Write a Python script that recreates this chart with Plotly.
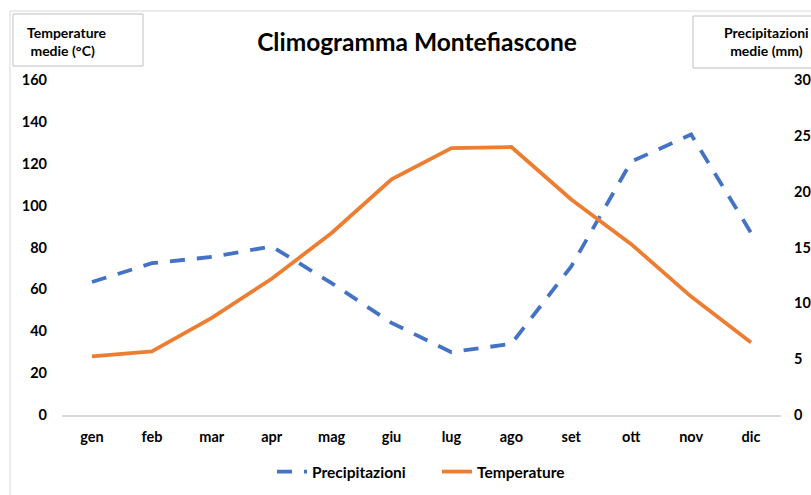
import plotly.graph_objects as go

months = ["gen", "feb", "mar", "apr", "mag", "giu", "lug", "ago", "set", "ott", "nov", "dic"]
precipitazioni = [63.5, 72.5, 75.5, 80.5, 63, 44, 30, 34, 71, 121, 134, 87]
temperature = [5.25, 5.7, 8.7, 12.2, 16.3, 21.1, 23.9, 24.0, 19.3, 15.3, 10.6, 6.5]
left_ticks = [0, 20, 40, 60, 80, 100, 120, 140, 160]
right_ticks = [0, 5, 10, 15, 20, 25, 30]

FONT = "Lato"
W, H = 811, 495
# plot area in page pixels
L, R, T, B = 62, 781, 80, 415

def px(x):
    return (x - L) / (R - L)

def py(y):
    return (B - y) / (B - T)

bold = dict(family=FONT, size=14.5, color="#000000", weight="bold")

fig = go.Figure()
fig.add_trace(go.Scatter(
    x=months, y=precipitazioni, name="Precipitazioni", mode="lines",
    line=dict(color="#4472C4", width=3.8, dash="15px,12px"), yaxis="y"))
fig.add_trace(go.Scatter(
    x=months, y=temperature, name="Temperature", mode="lines",
    line=dict(color="#ED7D31", width=3.8), yaxis="y2"))

fig.update_layout(
    width=W, height=H,
    margin=dict(l=L, r=W - R, t=T, b=H - B, autoexpand=False),
    paper_bgcolor="white", plot_bgcolor="white",
    font=dict(family=FONT, size=13, color="#000000"),
    title=dict(text="Climogramma Montefiascone", x=(258 + 576) / 2 / W, xanchor="center",
               y=1 - 42 / H, yanchor="middle",
               font=dict(size=24.5, family=FONT, color="#000000", weight="bold")),
    xaxis=dict(range=[-0.5, 11.5], showgrid=False, showline=True, linecolor="#D9D9D9", linewidth=1.5,
               ticks="", tickfont=bold, ticklabelstandoff=8),
    yaxis=dict(range=[0, 160], tickvals=left_ticks, showgrid=False, zeroline=False,
               showline=False, ticks="", tickfont=bold, ticklabelstandoff=14),
    yaxis2=dict(range=[0, 30], tickvals=right_ticks, overlaying="y", side="right",
                showgrid=False, zeroline=False, showline=False, ticks="",
                tickfont=bold, ticklabelstandoff=12),
    legend=dict(orientation="h", x=px(272), xanchor="left", y=py(472), yanchor="middle",
                font=dict(family=FONT, size=15.5, color="#000000", weight="bold"),
                traceorder="normal", entrywidth=120, entrywidthmode="pixels"),
    showlegend=True,
)

# outer chart border
fig.add_shape(type="rect", xref="paper", yref="paper",
              x0=px(10), x1=px(900), y0=py(560), y1=py(11),
              line=dict(color="#D9D9D9", width=1), fillcolor="rgba(0,0,0,0)", layer="below")
# axis title boxes
fig.add_shape(type="rect", xref="paper", yref="paper",
              x0=px(13), x1=px(143), y0=py(66), y1=py(14),
              line=dict(color="#BFBFBF", width=1), fillcolor="white")
fig.add_shape(type="rect", xref="paper", yref="paper",
              x0=px(693), x1=px(880), y0=py(68), y1=py(16),
              line=dict(color="#BFBFBF", width=1), fillcolor="white")

fig.add_annotation(xref="paper", yref="paper", x=px(25), y=py(41), xanchor="left", yanchor="middle",
                   text="Temperature<br> medie (°C)", showarrow=False, align="left",
                   font=dict(size=14, family=FONT, color="#000000", weight="bold"))
fig.add_annotation(xref="paper", yref="paper", x=px(766), y=py(42), xanchor="center", yanchor="middle",
                   text="Precipitazioni<br>medie (mm)", showarrow=False, align="center",
                   font=dict(size=14, family=FONT, color="#000000", weight="bold"))

fig.write_html("out.html", config={"displayModeBar": False},
               post_script="document.body.style.margin='0';document.body.style.overflow='hidden';")
